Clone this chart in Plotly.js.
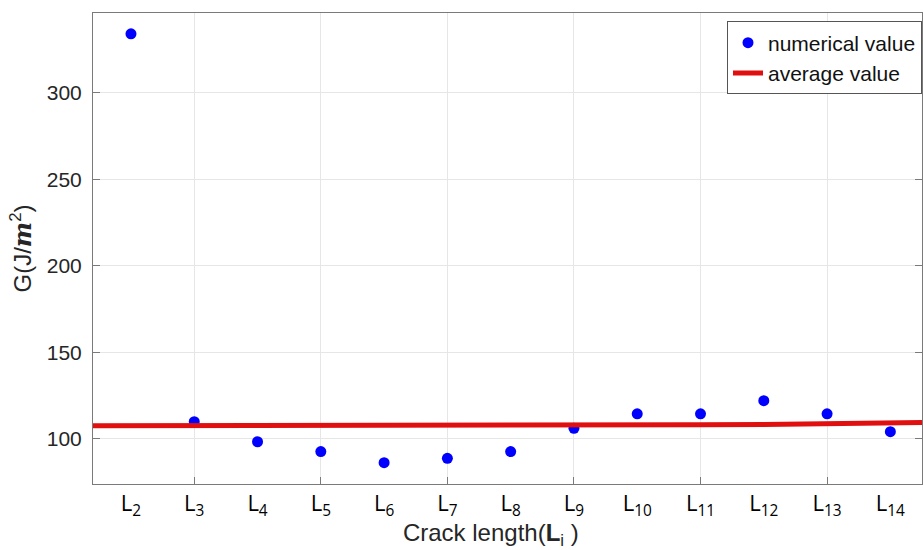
<!DOCTYPE html>
<html>
<head>
<meta charset="utf-8">
<script src="https://cdn.plot.ly/plotly-3.0.1.min.js"></script>
<style>html,body{margin:0;padding:0;background:#fff;}#chart{width:923px;height:550px;}</style>
</head>
<body>
<div id="chart"></div>
<script>
// Data
const categoryIndex = [2, 3, 4, 5, 6, 7, 8, 9, 10, 11, 12, 13, 14];
const categoryLabels = ["L<sub>2</sub>", "L<sub>3</sub>", "L<sub>4</sub>", "L<sub>5</sub>", "L<sub>6</sub>", "L<sub>7</sub>", "L<sub>8</sub>", "L<sub>9</sub>", "L<sub>10</sub>", "L<sub>11</sub>", "L<sub>12</sub>", "L<sub>13</sub>", "L<sub>14</sub>"];
const numericalValue = [334, 110.0, 98.4, 92.7, 86.3, 88.8, 92.7, 106.2, 114.5, 114.5, 122.1, 114.5, 104.2];
const averageX = [1.4, 2, 3, 4, 5, 6, 7, 8, 9, 10, 11, 12, 13, 14, 14.5];
const averageValue = [107.6, 107.6, 107.7, 107.7, 107.7, 107.8, 107.8, 107.9, 108.0, 108.1, 108.2, 108.4, 108.6, 109.1, 109.5];
const gridTicks = [3, 5, 7, 9, 11, 13];
const yTicks = [100, 150, 200, 250, 300];

const traces = [
  {
    x: categoryIndex, y: numericalValue, type: 'scatter', mode: 'markers',
    name: 'numerical value',
    marker: {color: '#0000ff', size: 11}
  },
  {
    x: averageX, y: averageValue, type: 'scatter', mode: 'lines',
    name: 'average value',
    line: {color: '#e01010', width: 5}
  },
  {
    x: gridTicks, y: gridTicks.map(() => null), xaxis: 'x2', type: 'scatter',
    mode: 'markers', showlegend: false, hoverinfo: 'skip'
  }
];

const axisColor = '#7a7a7a';
const layout = {
  width: 923, height: 550,
  margin: {l: 93, r: 1, t: 13, b: 66},
  paper_bgcolor: '#fff', plot_bgcolor: '#fff',
  font: {family: 'Liberation Sans, Arial, sans-serif', color: '#262626', size: 20},
  showlegend: true,
  legend: {
    x: 1, xanchor: 'right', y: 0.982, yanchor: 'top',
    bgcolor: '#fff', bordercolor: '#555', borderwidth: 1,
    font: {family: 'Liberation Sans, Arial, sans-serif', size: 21, color: '#111'},
    tracegroupgap: 0, itemwidth: 30
  },
  xaxis: {
    range: [1.4, 14.5],
    tickmode: 'array', tickvals: categoryIndex, ticktext: categoryLabels,
    tickfont: {family: 'Open Sans, Noto Sans, sans-serif', size: 22, color: '#000'},
    showgrid: false, zeroline: false, ticks: '',
    showline: true, linecolor: axisColor, linewidth: 1, mirror: true,
    title: {text: 'Crack length(<b>L</b><sub>i</sub> )&nbsp;&nbsp;&nbsp;&nbsp;&nbsp;', font: {family: 'Liberation Sans, Arial, sans-serif', size: 24, color: '#262626'}, standoff: 4}
  },
  xaxis2: {
    overlaying: 'x', matches: 'x', range: [1.4, 14.5],
    tickmode: 'array', tickvals: gridTicks, showticklabels: false,
    showgrid: true, gridcolor: '#e6e6e6', gridwidth: 1,
    ticks: 'inside', ticklen: 7, tickcolor: axisColor, zeroline: false,
    showline: false
  },
  yaxis: {
    range: [74, 346],
    tickmode: 'array', tickvals: yTicks,
    showgrid: true, gridcolor: '#e6e6e6', zeroline: false,
    ticks: 'inside', ticklen: 7, tickcolor: axisColor,
    showline: true, linecolor: axisColor, linewidth: 1, mirror: 'ticks',
    ticklabelstandoff: 6,
    tickfont: {size: 21, color: '#262626'},
    title: {text: 'G(J/<span style="font-family:DejaVu Serif"><b><i>m</i></b></span><sup>2</sup>)', font: {size: 24, color: '#262626'}, standoff: 8}
  }
};

Plotly.newPlot('chart', traces, layout, {displayModeBar: false, staticPlot: true});
</script>
</body>
</html>
